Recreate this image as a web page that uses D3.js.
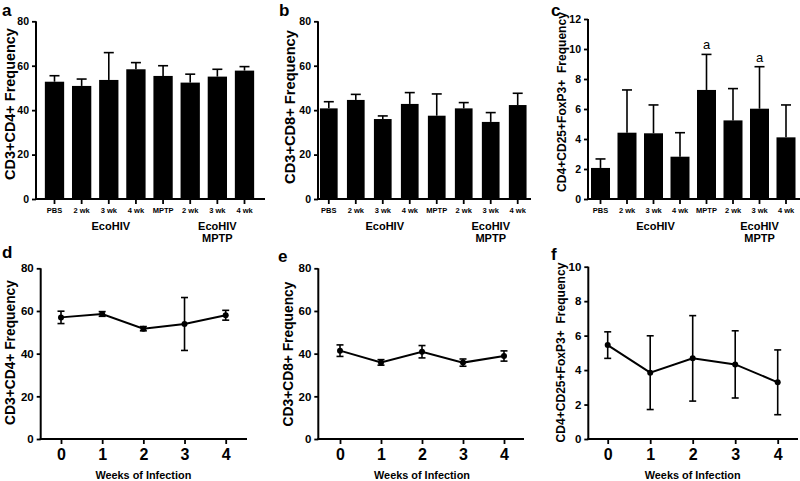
<!DOCTYPE html>
<html>
<head>
<meta charset="utf-8">
<script src="https://cdn.jsdelivr.net/npm/d3@7"></script>
<style>
  html, body { margin: 0; padding: 0; background: #fff; }
  svg { display: block; }
  .num { font-family: "Liberation Sans Narrow", "Liberation Sans", Arial, sans-serif; font-weight: bold; }
  .txt { font-family: "Liberation Sans", Arial, sans-serif; font-weight: bold; }
</style>
</head>
<body>
<script>
// ---------------- data ----------------
const barCategories = ["PBS", "2 wk", "3 wk", "4 wk", "MPTP", "2 wk", "3 wk", "4 wk"];
const groupLabel1 = ["EcoHIV"];
const groupLabel2 = ["EcoHIV", "MPTP"];

const cd4Mean = [52.8, 50.9, 53.6, 58.4, 55.4, 52.4, 55.1, 57.8];
const cd4Err  = [2.7, 3.1, 12.3, 3.0, 4.6, 3.8, 3.3, 1.8];

const cd8Mean = [40.8, 44.6, 36.0, 42.8, 37.5, 40.8, 34.7, 42.3];
const cd8Err  = [3.0, 2.5, 1.4, 5.1, 9.8, 2.6, 4.2, 5.3];

const tregMean = [2.07, 4.42, 4.38, 2.82, 7.27, 5.24, 6.02, 4.11];
const tregErr  = [0.6, 2.85, 1.89, 1.6, 2.37, 2.12, 2.8, 2.16];
const tregSig  = ["", "", "", "", "a", "", "a", ""];

const weeks = [0, 1, 2, 3, 4];
const wkCd4Mean = [57.0, 58.6, 51.7, 53.9, 58.0];
const wkCd4Err  = [2.9, 1.1, 1.0, 12.4, 2.3];
const wkCd8Mean = [41.4, 35.9, 40.9, 35.8, 38.9];
const wkCd8Err  = [2.7, 1.3, 2.9, 1.7, 2.4];
const wkTregMean = [5.45, 3.85, 4.68, 4.33, 3.29];
const wkTregErr  = [0.77, 2.14, 2.48, 1.95, 1.88];

const ticks80 = [0, 20, 40, 60, 80];
const ticks12 = [0, 2, 4, 6, 8, 10, 12];
const ticks10 = [0, 2, 4, 6, 8, 10];

const yTitleCd4 = "CD3+CD4+ Frequency";
const yTitleCd8 = "CD3+CD8+ Frequency";
const yTitleTreg = "CD4+CD25+FoxP3+\u00a0\u00a0Frequency";
const xTitleWeeks = "Weeks of Infection";

// ---------------- drawing ----------------
const svg = d3.select("body").append("svg").attr("width", 800).attr("height", 481);

function fitText(sel, size, target) {
  sel.attr("font-size", size);
  const len = sel.node().getComputedTextLength();
  if (len > 0) sel.attr("font-size", size * target / len);
  return sel;
}

function panelLetter(letter, x, y) {
  svg.append("text").attr("class", "txt").attr("x", x).attr("y", y)
    .attr("font-size", 17).text(letter);
}

function yAxisDraw(y, axisX, tickVals, yTop, yBottom, fontSize) {
  const g = svg.append("g").attr("transform", `translate(${axisX},0)`);
  g.call(d3.axisLeft(y).tickValues(tickVals).tickSize(4).tickSizeOuter(0).tickPadding(3));
  g.select(".domain").remove();
  g.selectAll(".tick line").attr("stroke", "#000").attr("stroke-width", 1.8);
  g.selectAll(".tick text").attr("class", "num").attr("font-size", fontSize).attr("fill", "#000");
  g.append("line").attr("x1", 0).attr("x2", 0).attr("y1", yTop).attr("y2", yBottom + 1)
    .attr("stroke", "#000").attr("stroke-width", 2);
}

function yTitle(text, x, yc, len) {
  const t = svg.append("text").attr("class", "txt")
    .attr("transform", `translate(${x},${yc}) rotate(-90)`)
    .attr("text-anchor", "middle").attr("dominant-baseline", "central")
    .text(text);
  fitText(t, 13, len);
}

function barPanel(o) {
  const n = o.mean.length;
  const step = (o.cN - o.c0) / (n - 1);
  const p = 1 - o.bw / step;
  const x = d3.scaleBand().domain(d3.range(n))
    .range([o.c0 - step / 2, o.cN + step / 2]).paddingInner(p).paddingOuter(p / 2);
  const y = d3.scaleLinear().domain([0, o.yMax]).range([o.y0, o.yTop]);

  svg.append("g").selectAll("rect").data(o.mean).join("rect")
    .attr("x", (d, i) => x(i)).attr("width", x.bandwidth())
    .attr("y", d => y(d)).attr("height", d => y(0) - y(d)).attr("fill", "#000");

  const eg = svg.append("g").attr("stroke", "#000").attr("stroke-width", 1.6);
  o.mean.forEach((m, i) => {
    const cx = x(i) + x.bandwidth() / 2;
    eg.append("line").attr("x1", cx).attr("x2", cx).attr("y1", y(m)).attr("y2", y(m + o.err[i]));
    eg.append("line").attr("x1", cx - 5).attr("x2", cx + 5).attr("y1", y(m + o.err[i])).attr("y2", y(m + o.err[i]));
  });

  if (o.sig) {
    svg.append("g").selectAll("text").data(o.sig).join("text")
      .attr("x", (d, i) => x(i) + x.bandwidth() / 2)
      .attr("y", (d, i) => y(o.mean[i] + o.err[i]) - 5)
      .attr("text-anchor", "middle").attr("font-family", "Liberation Sans, Arial, sans-serif")
      .attr("font-size", 13).text(d => d);
  }

  const gx = svg.append("g").attr("transform", `translate(0,${o.y0})`);
  gx.call(d3.axisBottom(x).tickSize(5).tickSizeOuter(0).tickPadding(4).tickFormat(i => barCategories[i]));
  gx.select(".domain").remove();
  gx.selectAll(".tick line").attr("stroke", "#000").attr("stroke-width", 1.8);
  gx.selectAll(".tick text").attr("class", "num").attr("font-size", 7.5).attr("fill", "#000");
  svg.append("line").attr("x1", o.axisX - 1).attr("x2", o.axisEnd).attr("y1", o.y0).attr("y2", o.y0)
    .attr("stroke", "#000").attr("stroke-width", 2);

  yAxisDraw(y, o.axisX, o.ticks, o.yTop, o.y0, 10.5);

  const g1 = x(2) + x.bandwidth() / 2 + 2;
  const g2 = x(6) + x.bandwidth() / 2;
  groupLabel1.forEach((t, k) => {
    svg.append("text").attr("class", "num").attr("x", g1).attr("y", o.y0 + 27 + k * 12)
      .attr("text-anchor", "middle").attr("dominant-baseline", "central").attr("font-size", 11).text(t);
  });
  groupLabel2.forEach((t, k) => {
    svg.append("text").attr("class", "num").attr("x", g2).attr("y", o.y0 + 27 + k * 12)
      .attr("text-anchor", "middle").attr("dominant-baseline", "central").attr("font-size", 11).text(t);
  });

  yTitle(o.title, o.titleX, o.titleY, o.titleLen);
}

function linePanel(o) {
  const x = d3.scaleLinear().domain([0, 4]).range([o.x0, o.x4]);
  const y = d3.scaleLinear().domain([0, o.yMax]).range([o.y0, o.yTop]);

  svg.append("path").datum(weeks)
    .attr("d", d3.line().x(d => x(d)).y((d, i) => y(o.mean[i])))
    .attr("fill", "none").attr("stroke", "#000").attr("stroke-width", 2);

  const eg = svg.append("g").attr("stroke", "#000").attr("stroke-width", 1.6);
  weeks.forEach((w, i) => {
    const cx = x(w), hi = y(o.mean[i] + o.err[i]), lo = y(o.mean[i] - o.err[i]);
    eg.append("line").attr("x1", cx).attr("x2", cx).attr("y1", hi).attr("y2", lo);
    eg.append("line").attr("x1", cx - 3.5).attr("x2", cx + 3.5).attr("y1", hi).attr("y2", hi);
    eg.append("line").attr("x1", cx - 3.5).attr("x2", cx + 3.5).attr("y1", lo).attr("y2", lo);
  });

  svg.append("g").selectAll("circle").data(weeks).join("circle")
    .attr("cx", d => x(d)).attr("cy", (d, i) => y(o.mean[i])).attr("r", 3).attr("fill", "#000");

  const gx = svg.append("g").attr("transform", `translate(0,${o.y0})`);
  gx.call(d3.axisBottom(x).tickValues(weeks).tickSize(5).tickSizeOuter(0).tickPadding(5).tickFormat(d3.format("d")));
  gx.select(".domain").remove();
  gx.selectAll(".tick line").attr("stroke", "#000").attr("stroke-width", 1.8);
  gx.selectAll(".tick text").attr("class", "num").attr("font-size", 16).attr("fill", "#000");
  svg.append("line").attr("x1", o.axisX - 1).attr("x2", o.axisEnd).attr("y1", o.y0).attr("y2", o.y0)
    .attr("stroke", "#000").attr("stroke-width", 2);

  yAxisDraw(y, o.axisX, o.ticks, o.yTop, o.y0, 11.5);

  const xt = svg.append("text").attr("class", "txt").attr("x", (o.x0 + o.x4) / 2).attr("y", o.y0 + 36)
    .attr("text-anchor", "middle").attr("dominant-baseline", "central").text(xTitleWeeks);
  fitText(xt, 11.5, 96);

  yTitle(o.title, o.titleX, o.titleY, o.titleLen);
}

// ---- panel a ----
barPanel({ mean: cd4Mean, err: cd4Err, yMax: 80, ticks: ticks80, y0: 199, yTop: 21.3,
  c0: 54.5, cN: 244.5, bw: 19.3, axisX: 36, axisEnd: 265,
  title: yTitleCd4, titleX: 10, titleY: 104, titleLen: 152 });
panelLetter("a", 2, 16);

// ---- panel b ----
barPanel({ mean: cd8Mean, err: cd8Err, yMax: 80, ticks: ticks80, y0: 199, yTop: 21.3,
  c0: 328.8, cN: 517.7, bw: 17.7, axisX: 318, axisEnd: 531,
  title: yTitleCd8, titleX: 290, titleY: 107, titleLen: 154 });
panelLetter("b", 279, 16);

// ---- panel c ----
barPanel({ mean: tregMean, err: tregErr, sig: tregSig, yMax: 12, ticks: ticks12, y0: 199, yTop: 19,
  c0: 600.5, cN: 786, bw: 19, axisX: 588, axisEnd: 800,
  title: yTitleTreg, titleX: 561.5, titleY: 102, titleLen: 180 });
panelLetter("c", 551, 16);

// ---- panel d ----
linePanel({ mean: wkCd4Mean, err: wkCd4Err, yMax: 80, ticks: ticks80, y0: 439, yTop: 268.3,
  x0: 61, x4: 225.7, axisX: 40.7, axisEnd: 247,
  title: yTitleCd4, titleX: 10, titleY: 352.5, titleLen: 145 });
panelLetter("d", 2, 258);

// ---- panel e ----
linePanel({ mean: wkCd8Mean, err: wkCd8Err, yMax: 80, ticks: ticks80, y0: 439, yTop: 268.3,
  x0: 340, x4: 504, axisX: 318.3, axisEnd: 524,
  title: yTitleCd8, titleX: 288, titleY: 354, titleLen: 145 });
panelLetter("e", 278, 262);

// ---- panel f ----
linePanel({ mean: wkTregMean, err: wkTregErr, yMax: 10, ticks: ticks10, y0: 439, yTop: 266.7,
  x0: 607.7, x4: 777.7, axisX: 588.3, axisEnd: 798,
  title: yTitleTreg, titleX: 560.5, titleY: 352.5, titleLen: 180 });
panelLetter("f", 551, 260);
</script>
</body>
</html>
